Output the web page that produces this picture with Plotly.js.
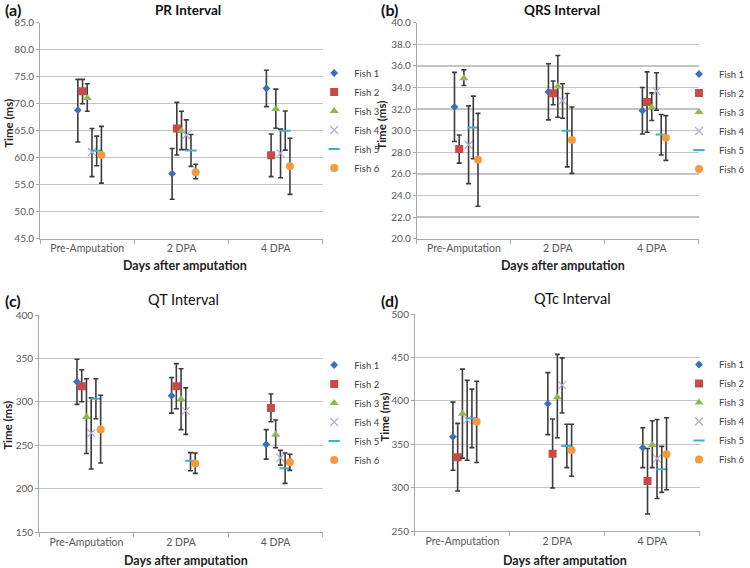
<!DOCTYPE html>
<html>
<head>
<meta charset="utf-8">
<script src="https://cdn.plot.ly/plotly-3.0.1.min.js"></script>
<style>html,body{margin:0;padding:0;background:#fff}#chart{width:750px;height:568px}</style>
</head>
<body>
<div id="chart"></div>
<script>
// ---------------- DATA ----------------
const categories = ['Pre-Amputation', '2 DPA', '4 DPA'];
const fishNames = ['Fish 1', 'Fish 2', 'Fish 3', 'Fish 4', 'Fish 5', 'Fish 6'];

// PR interval (ms): one row per fish, columns = categories
const prMean = [[68.8, 57.05, 72.85], [72.3, 65.4, 60.45], [71.05, 64.95, 69.0], [61.05, 64.2, 60.8], [61.3, 61.35, 65.0], [60.5, 57.3, 58.4]];
const prHigh = [[74.5, 61.7, 76.2], [74.5, 70.25, 64.4], [73.7, 68.6, 72.7], [65.4, 67.0, 65.3], [64.0, 64.3, 68.65], [65.8, 58.8, 63.6]];
const prLow  = [[62.9, 52.3, 69.45], [70.0, 60.5, 56.5], [68.6, 61.5, 65.45], [56.5, 61.5, 56.3], [58.5, 58.4, 61.4], [55.3, 56.1, 53.2]];

// QRS interval (ms)
const qrsMean = [[32.2, 33.6, 31.85], [28.3, 33.47, 32.65], [34.86, 34.1, 32.15], [28.7, 32.78, 33.65], [30.3, 30.0, 29.65], [27.3, 29.15, 29.35]];
const qrsHigh = [[35.4, 36.2, 34.0], [29.6, 34.6, 35.45], [35.63, 36.96, 33.5], [32.3, 34.35, 35.37], [33.2, 33.45, 31.5], [31.6, 32.2, 31.4]];
const qrsLow  = [[29.0, 31.0, 29.7], [27.0, 32.4, 29.85], [34.18, 31.25, 30.95], [25.1, 31.15, 31.9], [27.4, 26.65, 27.75], [23.0, 26.05, 27.25]];

// QT interval (ms)
const qtMean = [[323, 307, 251], [318, 318, 293], [282.5, 303, 262], [264, 289.5, 235.5], [303.5, 232, 223.5], [268, 229, 230.5]];
const qtHigh = [[349, 328, 268], [337, 344, 309], [326.5, 338, 279], [304.5, 316, 244], [326.5, 241.5, 241], [307.5, 241, 239.5]];
const qtLow  = [[297, 287, 234], [300, 292, 277], [240.5, 268, 247], [222.5, 262.5, 227], [280.5, 220.5, 206], [229.5, 217.5, 221]];

// QTc interval (ms)
const qtcMean = [[358.5, 396.5, 346], [335, 339, 307.5], [385, 404, 349], [378, 418, 333.5], [380, 348, 321], [376, 343, 338.5]];
const qtcHigh = [[398.5, 432.5, 369], [374, 379, 345], [436.5, 453.5, 377], [423.5, 449.5, 378.5], [413.5, 373, 347.5], [422.5, 373, 380.5]];
const qtcLow  = [[320, 361, 323], [296, 299.5, 269.5], [334, 357.5, 323], [331.5, 386, 287.5], [346, 323, 294.5], [329, 313, 297.5]];

// ---------------- STYLE ----------------
const FONT = 'Lato, "Open Sans", sans-serif';
const W = 750, H = 568;
const px = v => v / W;
const py = v => 1 - v / H;
const fishOffsets = [-0.1, -0.05, 0, 0.05, 0.1, 0.15];
const fishStyles = [
  {symbol: 'diamond', color: '#3b6fba', size: 6, line: {width: 0}},
  {symbol: 'square', color: '#c94a47', size: 8, line: {width: 0}},
  {symbol: 'triangle-up', color: '#8fb94e', size: 8, line: {width: 0}},
  {symbol: 'x-thin-open', color: '#b4acd6', size: 8, line: {width: 1.2, color: '#b4acd6'}},
  {symbol: 'line-ew-open', color: '#3fb0cc', size: 8, line: {width: 2, color: '#3fb0cc'}},
  {symbol: 'circle', color: '#f79a3e', size: 8, line: {width: 0}}
];

const panels = [
  {label: '(a)', title: 'PR Interval', bold: true, mean: prMean, high: prHigh, low: prLow, range: [45, 85], dtick: 5, fmt: '.1f',
   xd: [41, 330], yd: [22.7, 238.7], lab: [3, 10], tit: [192, 10], yt: [8, 123], xt: [189, 266], leg: [321, 120.5]},
  {label: '(b)', title: 'QRS Interval', bold: true, mean: qrsMean, high: qrsHigh, low: qrsLow, range: [20, 40], dtick: 2, fmt: '.1f',
   xd: [426, 714], yd: [22.7, 238.7], lab: [387, 10], tit: [574, 10], yt: [390, 125], xt: [575, 266], leg: [694, 121.5]},
  {label: '(c)', title: 'QT Interval', bold: false, mean: qtMean, high: qtHigh, low: qtLow, range: [150, 400], dtick: 50, fmt: 'd',
   xd: [40, 330], yd: [315, 532], lab: [3, 300], tit: [188, 299], yt: [8, 425], xt: [190, 560], leg: [321, 412.5]},
  {label: '(d)', title: 'QTc Interval', bold: false, mean: qtcMean, high: qtcHigh, low: qtcLow, range: [250, 500], dtick: 50, fmt: 'd',
   xd: [424, 715], yd: [314, 531], lab: [387, 300], tit: [585, 298], yt: [392, 417], xt: [577, 560], leg: [694, 412]}
];

const traces = [];
const layout = {
  width: W, height: H,
  margin: {l: 0, r: 0, t: 0, b: 0},
  paper_bgcolor: '#ffffff', plot_bgcolor: '#ffffff',
  font: {family: FONT, size: 10, color: '#555555'},
  showlegend: true,
  annotations: []
};

panels.forEach((p, i) => {
  const n = i === 0 ? '' : String(i + 1);
  const legName = 'legend' + n;
  fishNames.forEach((name, f) => {
    const st = fishStyles[f];
    traces.push({
      type: 'scatter', mode: 'markers', name: name,
      x: categories.map((c, k) => k + fishOffsets[f]),
      y: p.mean[f],
      xaxis: 'x' + n, yaxis: 'y' + n,
      legend: legName,
      marker: {symbol: st.symbol, color: st.color, size: st.size, line: st.line},
      error_y: {
        type: 'data', symmetric: false,
        array: p.high[f].map((h, k) => h - p.mean[f][k]),
        arrayminus: p.low[f].map((l, k) => p.mean[f][k] - l),
        color: '#3c3c3c', thickness: 1.6, width: 2.5
      },
      hoverinfo: 'name+y'
    });
  });

  layout['xaxis' + n] = {
    domain: [px(p.xd[0]), px(p.xd[1])],
    anchor: 'y' + n,
    range: [-0.5, 2.5],
    tickmode: 'array', tickvals: [0, 1, 2], ticktext: categories,
    ticks: '', showgrid: false, zeroline: false,
    showline: true, linecolor: '#a8a8a8', linewidth: 1,
    tickfont: {family: FONT, size: 10.5, color: '#595959'},
    minor: {tickmode: 'array', tickvals: [-0.5, 0.5, 1.5, 2.5], ticks: 'outside', ticklen: 4, tickcolor: '#a8a8a8', tickwidth: 1, showgrid: false},
    fixedrange: true
  };
  layout['yaxis' + n] = {
    domain: [py(p.yd[1]), py(p.yd[0])],
    anchor: 'x' + n,
    range: p.range, tickmode: 'linear', tick0: p.range[0], dtick: p.dtick,
    tickformat: p.fmt,
    ticks: 'outside', ticklen: 3, tickcolor: '#a8a8a8',
    showgrid: true, gridcolor: '#c4c4c4', gridwidth: 1.4,
    zeroline: false, showline: true, linecolor: '#a8a8a8', linewidth: 1,
    tickfont: {family: FONT, size: 10, color: '#595959'},
    fixedrange: true
  };
  layout[legName] = {
    x: px(p.leg[0]), y: py(p.leg[1]), xanchor: 'left', yanchor: 'middle',
    bgcolor: 'rgba(0,0,0,0)', borderwidth: 0,
    font: {family: FONT, size: 9.5, color: '#404040'},
    itemwidth: 30, tracegroupgap: 0
  };

  const ann = layout.annotations;
  ann.push({text: '<b>' + p.label + '</b>', xref: 'paper', yref: 'paper', x: px(p.lab[0]), y: py(p.lab[1]),
    xanchor: 'left', yanchor: 'middle', showarrow: false, font: {family: FONT, size: 16, color: '#111111'}});
  ann.push({text: p.bold ? '<b>' + p.title + '</b>' : p.title, xref: 'paper', yref: 'paper', x: px(p.tit[0]), y: py(p.tit[1]),
    xanchor: 'center', yanchor: 'middle', showarrow: false, font: {family: FONT, size: p.bold ? 13.5 : 14.5, color: '#111111'}});
  ann.push({text: '<b>Time (ms)</b>', xref: 'paper', yref: 'paper', x: px(p.yt[0]), y: py(p.yt[1]), textangle: -90,
    xanchor: 'center', yanchor: 'middle', showarrow: false, font: {family: FONT, size: 11.5, color: '#222222'}});
  ann.push({text: '<b>Days after amputation</b>', xref: 'paper', yref: 'paper', x: px(p.xt[0]), y: py(p.xt[1]),
    xanchor: 'center', yanchor: 'middle', showarrow: false, font: {family: FONT, size: 12.5, color: '#222222'}});
});

Plotly.newPlot('chart', traces, layout, {displayModeBar: false, staticPlot: true});
</script>
</body>
</html>
